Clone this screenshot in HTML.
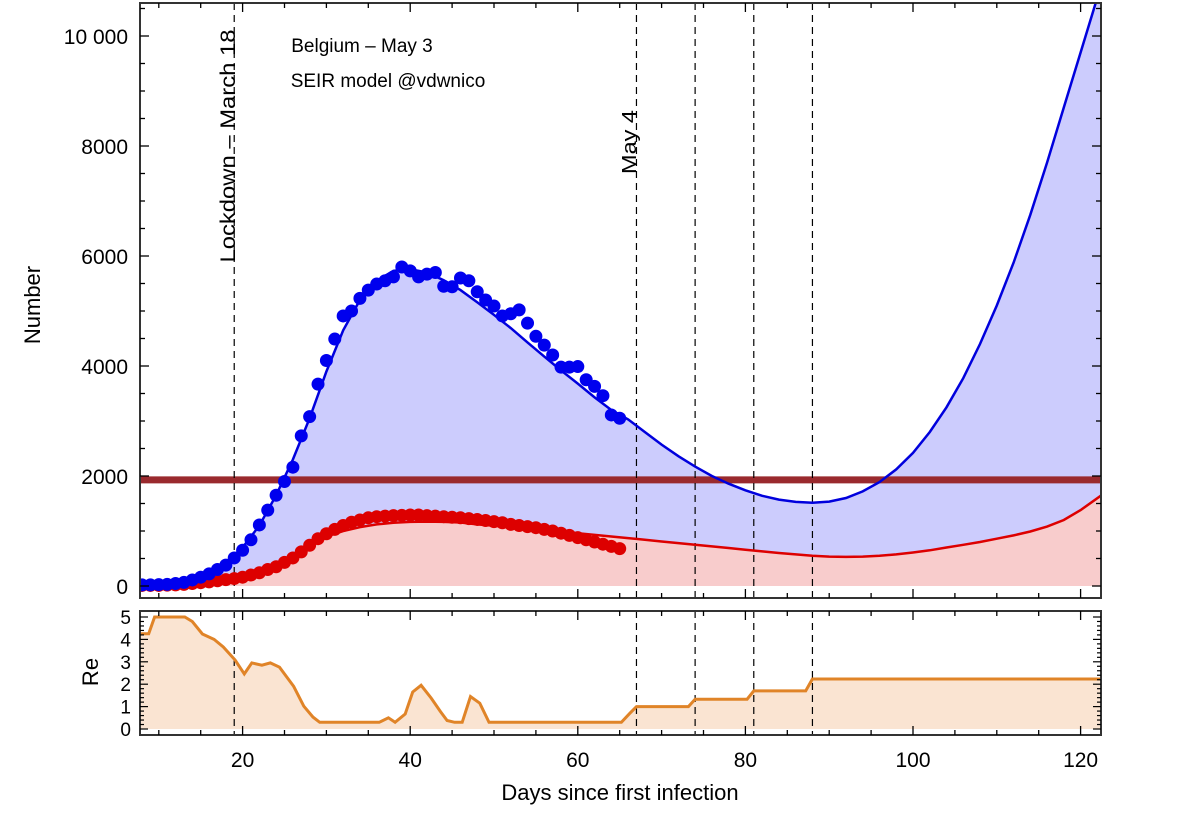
<!DOCTYPE html>
<html><head><meta charset="utf-8"><style>
body{margin:0;background:#fff}
svg text{font-family:"Liberation Sans",sans-serif;fill:#000}
</style></head><body>
<svg id="c" width="1200" height="817"></svg>
<script>
const xTicks=[20,40,60,80,100,120];
const yTicks=[0,2000,4000,6000,8000,10000];
const yTickLabels=["0","2000","4000","6000","8000","10 000"];
const reTicks=[0,1,2,3,4,5];
const eventDays=[19,67,74,81,88];
const capacity=1930;
const blueDays=[8,9,10,11,12,13,14,15,16,17,18,19,20,21,22,23,24,25,26,27,28,29,30,31,32,33,34,35,36,37,38,39,40,41,42,43,44,45,46,47,48,49,50,51,52,53,54,55,56,57,58,59,60,61,62,63,64,65];
const blueVals=[20,20,25,30,45,65,110,160,220,300,380,510,650,840,1110,1380,1650,1900,2160,2730,3080,3670,4100,4490,4910,5000,5230,5380,5490,5550,5620,5800,5730,5620,5670,5700,5450,5440,5600,5550,5350,5200,5090,4910,4950,5020,4780,4540,4380,4200,3980,3980,3990,3750,3630,3460,3110,3050];
const redVals=[10,10,10,15,20,30,45,60,75,95,115,135,160,200,240,300,350,430,510,620,740,860,950,1030,1100,1160,1200,1240,1260,1270,1280,1285,1290,1290,1280,1270,1260,1250,1240,1225,1210,1190,1170,1150,1120,1100,1080,1060,1030,1000,960,920,880,840,800,760,720,680];
const fitDays=[8,10,12,14,16,18,20,22,24,26,28,30,32,34,36,38,40,42,44,46,48,50,52,54,56,58,60,62,64,66,68,70,72,74,76,78,80,82,84,86,88,90,92,94,96,98,100,102,104,106,108,110,112,114,116,118,120,122.4];
const blueFit=[20,30,60,120,230,420,700,1100,1650,2300,3050,3900,4650,5200,5550,5730,5760,5700,5560,5380,5160,4930,4690,4430,4170,3920,3680,3430,3200,3030,2800,2570,2360,2170,2000,1860,1740,1640,1570,1530,1515,1535,1600,1720,1890,2120,2420,2800,3250,3780,4400,5100,5880,6750,7700,8700,9700,10900];
const redFit=[10,15,25,45,70,110,170,270,400,560,750,900,1000,1070,1120,1150,1165,1170,1165,1155,1120,1095,1070,1045,1020,990,960,930,900,870,840,810,780,750,720,690,660,630,600,575,550,535,530,535,550,575,610,650,700,750,800,860,920,990,1080,1200,1380,1640];
const reDays=[7.8,8.8,9.5,13.1,14,15.2,16.6,17.7,19.1,20.2,21.1,22.3,23.3,24.4,26.1,27.3,28.4,29.2,36.3,37.4,38.2,39.4,40.3,41.3,42.5,43.6,44.4,45.3,46.2,47.2,48.3,49.4,65.2,66.2,67,73.2,74,80.2,81,87.2,88,122.4];
const reVals=[4.25,4.25,5,5,4.8,4.24,4,3.66,3.08,2.46,2.95,2.85,2.95,2.76,1.9,1.02,0.53,0.3,0.3,0.5,0.3,0.67,1.65,1.95,1.38,0.78,0.38,0.3,0.3,1.45,1.15,0.3,0.3,0.7,1.0,1.0,1.33,1.33,1.7,1.7,2.23,2.23];

const L=140,R=1101,T=3,B=598,RT=611,RB=735;
const X=d=>75+d*8.38;
const Y=v=>586-v*0.055;
const RY=v=>729-v*22.4;
const NS="http://www.w3.org/2000/svg";
const svg=document.getElementById('c');
function mk(tag,attrs,parent){const e=document.createElementNS(NS,tag);for(const k in attrs)e.setAttribute(k,attrs[k]);(parent||svg).appendChild(e);return e;}
const defs=mk('defs',{});
const cp=mk('clipPath',{id:'cm'},defs);mk('rect',{x:L,y:T,width:R-L,height:B-T},cp);
const cp2=mk('clipPath',{id:'cr'},defs);mk('rect',{x:L,y:RT,width:R-L,height:RB-RT},cp2);
const gm=mk('g',{'clip-path':'url(#cm)'});
const pts=(xs,ys,fy)=>xs.map((d,i)=>X(d).toFixed(1)+','+fy(ys[i]).toFixed(1)).join(' ');
let e;
e=mk('polygon',{points:X(fitDays[0])+','+Y(0)+' '+pts(fitDays,blueFit,Y)+' '+X(122.4)+','+Y(0),fill:'#ccccfd'},gm);

e=mk('polygon',{points:X(fitDays[0])+','+Y(0)+' '+pts(fitDays,redFit,Y)+' '+X(122.4)+','+Y(0),fill:'#f8cccc'},gm);

e=mk('line',{x1:L,x2:R,y1:Y(capacity),y2:Y(capacity),stroke:'#9a2a2e','stroke-width':7},gm);

eventDays.forEach(d=>{e=mk('line',{x1:X(d),x2:X(d),y1:T,y2:B,stroke:'#000','stroke-width':1.2,'stroke-dasharray':'7,5'},gm);
});
e=mk('polyline',{points:pts(fitDays,redFit,Y),fill:'none',stroke:'#dd0000','stroke-width':2.5},gm);

blueDays.forEach((d,i)=>{e=mk('circle',{cx:X(d),cy:Y(redVals[i]),r:6.5,fill:'#dd0000'},gm);
});
e=mk('polyline',{points:pts(fitDays,blueFit,Y),fill:'none',stroke:'#0000dd','stroke-width':2.5},gm);

blueDays.forEach((d,i)=>{e=mk('circle',{cx:X(d),cy:Y(blueVals[i]),r:6.5,fill:'#0000ee'},gm);
});
const gr=mk('g',{'clip-path':'url(#cr)'});
e=mk('polygon',{points:X(reDays[0])+','+RY(0)+' '+pts(reDays,reVals,RY)+' '+X(122.4)+','+RY(0),fill:'#fae4d2'},gr);

eventDays.forEach(d=>{e=mk('line',{x1:X(d),x2:X(d),y1:RT,y2:RB,stroke:'#000','stroke-width':1.2,'stroke-dasharray':'7,5'},gr);
});
e=mk('polyline',{points:pts(reDays,reVals,RY),fill:'none',stroke:'#e08428','stroke-width':3},gr);

function frame(t,b){e=mk('rect',{x:L,y:t,width:R-L,height:b-t,fill:'none',stroke:'#333','stroke-width':2});

for(let d=10;d<=122;d+=5){const maj=d%20==0;const len=maj?9:5;
mk('line',{x1:X(d),x2:X(d),y1:b,y2:b-len,stroke:'#000','stroke-width':1.3});
mk('line',{x1:X(d),x2:X(d),y1:t,y2:t+len,stroke:'#000','stroke-width':1.3});}}
frame(T,B);frame(RT,RB);
for(let v=0;v<=10500;v+=500){const len=v%2000==0?9:5;
mk('line',{x1:L,x2:L+len,y1:Y(v),y2:Y(v),stroke:'#000','stroke-width':1.3});
mk('line',{x1:R,x2:R-len,y1:Y(v),y2:Y(v),stroke:'#000','stroke-width':1.3});}
for(let v=0;v<=5.2;v+=0.2){const maj=Math.abs(v-Math.round(v))<0.01;const len=maj?8:4;
mk('line',{x1:L,x2:L+len,y1:RY(v),y2:RY(v),stroke:'#000','stroke-width':1.2});
mk('line',{x1:R,x2:R-len,y1:RY(v),y2:RY(v),stroke:'#000','stroke-width':1.2});}
function txt(s,x,y,size,anchor,name,rot,tl){e=mk('text',{x:x,y:y,'font-size':size,'text-anchor':anchor||'middle'});
if(tl){e.setAttribute('textLength',tl);e.setAttribute('lengthAdjust','spacingAndGlyphs');}
if(rot)e.setAttribute('transform','rotate(-90 '+x+' '+y+')');e.textContent=s;
return e;}
xTicks.forEach(d=>txt(String(d),X(d),767,21,'middle','x-tick-label'));
yTicks.forEach((v,i)=>txt(yTickLabels[i],128,Y(v)+8,21,'end','y-tick-label'));
reTicks.forEach(v=>txt(String(v),131,RY(v)+7,19,'end','re-tick-label'));
txt('Days since first infection',620,800,22,'middle','x-axis-title');
txt('Number',40,305,22,'middle','y-axis-title',true);
txt('Re',98,672,22,'middle','re-axis-title',true);
txt('Belgium – May 3',362,52,19,'middle','chart-title');
txt('SEIR model @vdwnico',388,87,19,'middle','chart-subtitle');
txt('Lockdown – March 18',235,146,21,'middle','lockdown-label',true,233);
txt('May 4',636,142,20,'middle','may4-label',true,64);
</script>
</body></html>
